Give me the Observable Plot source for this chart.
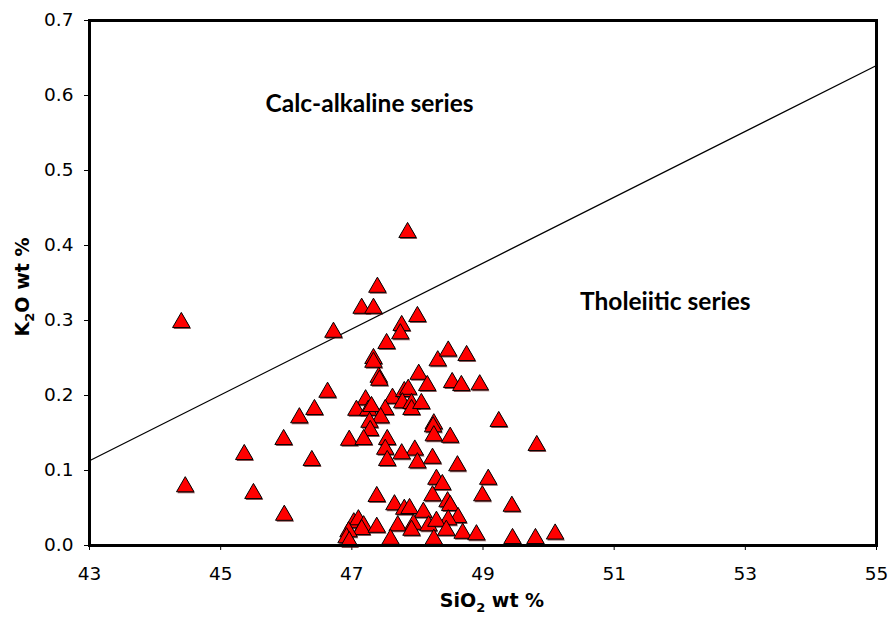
<!DOCTYPE html>
<html><head><meta charset="utf-8">
<script src="https://cdn.jsdelivr.net/npm/d3@7"></script>
<script src="https://cdn.jsdelivr.net/npm/@observablehq/plot@0.6"></script>
<style>body{margin:0;background:#fff}</style>
</head><body><div id="chart"></div>
<script>
const sio2 = [44.40,44.46,45.36,45.50,45.96,45.97,46.20,46.39,46.43,46.63,46.72,47.15,47.33,47.39,47.85,47.76,47.74,48.00,47.53,47.33,47.33,47.41,47.42,48.02,48.31,48.47,48.75,48.15,48.53,48.67,48.95,47.62,47.80,47.86,47.77,47.91,47.91,48.06,47.51,47.21,47.07,47.25,47.30,47.44,47.27,47.28,48.25,48.24,48.25,48.50,49.24,46.96,47.18,47.54,47.51,47.96,47.76,48.23,47.54,48.00,48.61,48.29,48.38,49.08,49.82,47.38,48.23,48.99,47.65,47.80,47.88,48.46,48.50,49.44,48.09,48.62,48.47,47.03,47.10,47.18,47.15,46.95,46.92,46.96,47.38,47.70,47.94,47.91,48.17,48.29,48.44,48.69,48.90,47.59,48.25,49.45,49.80,50.10];
const k2o = [0.300,0.081,0.124,0.072,0.144,0.043,0.173,0.116,0.184,0.207,0.287,0.319,0.319,0.347,0.420,0.296,0.285,0.308,0.272,0.252,0.247,0.227,0.223,0.231,0.249,0.262,0.256,0.216,0.220,0.216,0.217,0.199,0.208,0.211,0.193,0.192,0.184,0.192,0.184,0.197,0.183,0.183,0.188,0.173,0.167,0.156,0.165,0.161,0.149,0.147,0.168,0.143,0.144,0.144,0.131,0.130,0.125,0.119,0.116,0.113,0.109,0.091,0.084,0.091,0.136,0.068,0.069,0.069,0.057,0.051,0.052,0.061,0.056,0.055,0.047,0.040,0.037,0.033,0.037,0.029,0.024,0.021,0.013,0.008,0.027,0.029,0.031,0.023,0.029,0.035,0.023,0.019,0.017,0.011,0.011,0.012,0.012,0.018];
const lineX = [43, 55];
const lineY = [0.113, 0.64];
const xTicks = [43,45,47,49,51,53,55];
const yTicks = [0,0.1,0.2,0.3,0.4,0.5,0.6,0.7];
const labelText = ["Calc-alkaline series","Tholeiitic series"];
const labelX = [47.27, 51.78];
const labelY = [0.588, 0.324];

const pts = sio2.map((x,i)=>({x, y:k2o[i]}));
const boundary = lineX.map((x,i)=>({x, y:lineY[i]}));
const labels = labelText.map((t,i)=>({t, x:labelX[i], y:labelY[i]}));

const plot = Plot.plot({
  width: 890, height: 618,
  marginLeft: 89, marginRight: 14, marginTop: 20, marginBottom: 73,
  style: {fontFamily: "DejaVu Sans, sans-serif", color: "#000", background: "#fff"},
  x: {domain: [43,55]},
  y: {domain: [0,0.7]},
  marks: [
    Plot.axisX({ticks: xTicks, tickSize: 5, tickPadding: 16, tickFormat: d => String(d), label: null, fontSize: 18.5}),
    Plot.axisY({ticks: yTicks, tickSize: 5, tickPadding: 11, tickFormat: d3.format(".1f"), label: null, fontSize: 18.5}),
    Plot.line(boundary, {x: "x", y: "y", stroke: "#000", strokeWidth: 1.3}),
    Plot.dot(pts, {x: "x", y: "y", symbol: "triangle", r: 6.5, fill: "#5a1010", stroke: "none", dx: 1, dy: 3.5, fillOpacity: 0.7}),
    Plot.dot(pts, {x: "x", y: "y", symbol: "triangle", r: 6.5, fill: "#ff0000", stroke: "#000", strokeWidth: 1, dy: 2}),
    Plot.text(labels, {x: "x", y: "y", text: "t", fontSize: 24.5, fontWeight: "bold", fontFamily: "Lato, Open Sans, sans-serif", fill: "#000"}),
    Plot.frame({stroke: "#000", strokeWidth: 3})
  ]
});
document.getElementById("chart").appendChild(plot);

const svg = d3.select(plot);

const xt = svg.append("text")
  .attr("x", 492).attr("y", 607)
  .attr("text-anchor", "middle")
  .attr("font-family", "DejaVu Sans, sans-serif")
  .attr("font-weight", "bold").attr("font-size", 19).attr("fill", "#000");
xt.append("tspan").text("SiO");
xt.append("tspan").attr("font-size", 13).attr("dy", 5).text("2");
xt.append("tspan").attr("dy", -5).text(" wt %");

const yt = svg.append("text")
  .attr("transform", "translate(29,287) rotate(-90)")
  .attr("text-anchor", "middle")
  .attr("font-family", "DejaVu Sans, sans-serif")
  .attr("font-weight", "bold").attr("font-size", 19).attr("fill", "#000");
yt.append("tspan").text("K");
yt.append("tspan").attr("font-size", 13).attr("dy", 5).text("2");
yt.append("tspan").attr("dy", -5).text("O wt %");
</script>
</body></html>
